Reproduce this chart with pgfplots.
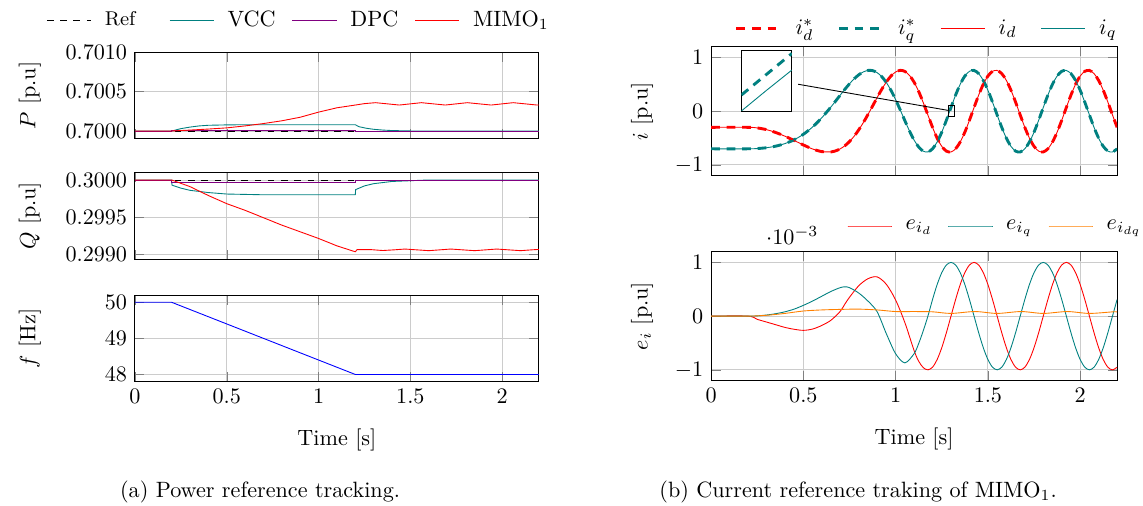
\documentclass[border=0pt]{standalone}
\usepackage{pgfplots}
\pgfplotsset{compat=1.18}
\usepackage{pgfplotstable}

\pgfplotstableread{
t id iq
0 -0.300 -0.700
0.2 -0.300 -0.700
0.25 -0.311 -0.695
0.30 -0.343 -0.680
0.35 -0.396 -0.651
0.40 -0.465 -0.603
0.45 -0.545 -0.532
0.50 -0.628 -0.430
0.55 -0.703 -0.294
0.60 -0.752 -0.122
0.65 -0.757 0.081
0.675 -0.738 0.189
0.70 -0.700 0.300
0.725 -0.643 0.408
0.75 -0.565 0.510
0.775 -0.467 0.602
0.80 -0.348 0.677
0.825 -0.212 0.731
0.85 -0.062 0.759
0.875 0.095 0.756
0.90 0.255 0.717
0.925 0.408 0.643
0.95 0.545 0.532
0.975 0.656 0.388
1.00 0.730 0.215
1.025 0.761 0.024
1.05 0.741 -0.175
1.075 0.667 -0.367
1.10 0.541 -0.537
1.125 0.367 -0.667
1.15 0.157 -0.745
1.175 -0.072 -0.758
1.20 -0.300 -0.700
1.225 -0.502 -0.573
1.25 -0.654 -0.390
1.275 -0.743 -0.169
1.30 -0.759 0.069
1.325 -0.700 0.300
1.35 -0.573 0.502
1.375 -0.390 0.654
1.40 -0.169 0.743
1.425 0.069 0.759
1.45 0.300 0.700
1.475 0.502 0.573
1.50 0.654 0.390
1.525 0.743 0.169
1.55 0.759 -0.069
1.575 0.700 -0.300
1.60 0.573 -0.502
1.625 0.390 -0.654
1.65 0.169 -0.743
1.675 -0.069 -0.759
1.70 -0.300 -0.700
1.725 -0.502 -0.573
1.75 -0.654 -0.390
1.775 -0.743 -0.169
1.80 -0.759 0.069
1.825 -0.700 0.300
1.85 -0.573 0.502
1.875 -0.390 0.654
1.90 -0.169 0.743
1.925 0.069 0.759
1.95 0.300 0.700
1.975 0.502 0.573
2.00 0.654 0.390
2.025 0.743 0.169
2.05 0.759 -0.069
2.075 0.700 -0.300
2.10 0.573 -0.502
2.125 0.390 -0.654
2.15 0.169 -0.743
2.175 -0.069 -0.759
2.20 -0.300 -0.700
}\itable

\pgfplotstableread{
t eid eiq
0 0 0
0.2 0 0
0.25 -0.06 0.005
0.3 -0.11 0.02
0.35 -0.16 0.045
0.4 -0.21 0.08
0.45 -0.245 0.13
0.5 -0.265 0.2
0.55 -0.241 0.28
0.6 -0.174 0.37
0.65 -0.076 0.46
0.7 0.089 0.53
0.725 0.224 0.545
0.75 0.35 0.53
0.8 0.565 0.43
0.85 0.696 0.28
0.9 0.73 0.08
0.95 0.59 -0.33
1.0 0.3 -0.7
1.05 -0.12 -0.87
1.1 -0.64 -0.7
1.125 -0.84 -0.51
1.15 -0.96 -0.27
1.175 -1 0
1.2 -0.951 0.309
1.225 -0.809 0.588
1.25 -0.588 0.809
1.275 -0.309 0.951
1.3 0 1
1.325 0.309 0.951
1.35 0.588 0.809
1.375 0.809 0.588
1.4 0.951 0.309
1.425 1 0
1.45 0.951 -0.309
1.475 0.809 -0.588
1.5 0.588 -0.809
1.525 0.309 -0.951
1.55 0 -1
1.575 -0.309 -0.951
1.6 -0.588 -0.809
1.625 -0.809 -0.588
1.65 -0.951 -0.309
1.675 -1 0
1.7 -0.951 0.309
1.725 -0.809 0.588
1.75 -0.588 0.809
1.775 -0.309 0.951
1.8 0 1
1.825 0.309 0.951
1.85 0.588 0.809
1.875 0.809 0.588
1.9 0.951 0.309
1.925 1 0
1.95 0.951 -0.309
1.975 0.809 -0.588
2.0 0.588 -0.809
2.025 0.309 -0.951
2.05 0 -1
2.075 -0.309 -0.951
2.1 -0.588 -0.809
2.125 -0.809 -0.588
2.15 -0.951 -0.309
2.175 -1 0
2.2 -0.951 0.309
}\etable

\pgfplotsset{
  base/.style={scale only axis, anchor=north west, xmin=0, xmax=2.2,
    xtick={0,0.5,1,1.5,2}, grid=major, grid style={black!20},
    scaled y ticks=false},
  leftax/.style={base, width=182.4pt, height=39.1pt,
    ylabel style={at={(axis description cs:-0.26,0.5)}, anchor=center}},
  rightax/.style={base, width=183.3pt, height=58.2pt,
    ylabel style={at={(axis description cs:-0.17,0.5)}, anchor=center}},
  refdash/.style={line width=1.3pt, dash pattern=on 4pt off 3pt},
}

\begin{document}
\begin{tikzpicture}
\path[use as bounding box] (0,0) rectangle (516pt,-228.4pt);

% ---------- P ----------
\begin{axis}[leftax, at={(60.9pt,-23.6pt)},
  ymin=0.6999, ymax=0.701, ytick={0.7,0.7005,0.701},
  yticklabel style={/pgf/number format/.cd, fixed, fixed zerofill, precision=4},
  xticklabels={}, ylabel={$P$ [p.u]},
  legend columns=4, legend cell align=left,
  legend image code/.code={\draw[mark repeat=2,mark phase=2,#1] plot coordinates {(0pt,0pt) (10pt,0pt) (20pt,0pt)};},
  legend style={draw=none, fill=none, inner xsep=0pt, inner ysep=0pt,
    at={(-0.22,1.373)}, anchor=west,
    /tikz/every odd column/.append style={column sep=4pt},
    /tikz/every even column/.append style={column sep=2pt}}]
\addplot[black, dashed] coordinates {(0,0.7) (2.2,0.7)};
\addlegendentry{\makebox[25pt][l]{\small Ref}}
\addplot[teal] coordinates {(0,0.7) (0.2,0.7) (0.25,0.70003) (0.3,0.70005) (0.35,0.700065) (0.4,0.700073) (0.5,0.700078) (0.6,0.70008) (1.2,0.70008) (1.22,0.700055) (1.26,0.700035) (1.3,0.700022) (1.35,0.700012) (1.4,0.700006) (1.5,0.700001) (1.6,0.7) (2.2,0.7)};
\addlegendentry{\makebox[25pt][l]{VCC}}
\addplot[violet] coordinates {(0,0.7) (0.2,0.7) (0.2,0.70001) (1.2,0.70001) (1.2,0.7) (2.2,0.7)};
\addlegendentry{\makebox[25pt][l]{DPC}}
\addplot[red] coordinates {(0,0.7) (0.2,0.7) (0.3,0.700012) (0.4,0.700025) (0.5,0.70004) (0.6,0.700065) (0.7,0.700095) (0.8,0.70013) (0.9,0.700175) (1.0,0.70024) (1.1,0.700295) (1.2,0.70033) (1.25,0.700348) (1.31,0.70036) (1.375,0.700345) (1.44,0.70033) (1.5,0.700345) (1.56,0.70036) (1.625,0.700345) (1.69,0.70033) (1.75,0.700345) (1.81,0.70036) (1.875,0.700345) (1.94,0.70033) (2.0,0.700345) (2.06,0.70036) (2.125,0.700345) (2.19,0.70033) (2.2,0.70033)};
\addlegendentry{MIMO$_1$}
\end{axis}

% ---------- Q ----------
\begin{axis}[leftax, at={(60.9pt,-77.9pt)},
  ymin=0.29893, ymax=0.3001, ytick={0.299,0.2995,0.3},
  yticklabel style={/pgf/number format/.cd, fixed, fixed zerofill, precision=4},
  xticklabels={}, ylabel={$Q$ [p.u]}]
\addplot[black, dashed] coordinates {(0,0.3) (2.2,0.3)};
\addplot[teal] coordinates {(0,0.3) (0.2,0.3) (0.202,0.29993) (0.25,0.29989) (0.3,0.29986) (0.4,0.29983) (0.5,0.29981) (0.7,0.2998) (1.2,0.2998) (1.202,0.29987) (1.25,0.29992) (1.3,0.29995) (1.4,0.29998) (1.5,0.29999) (1.6,0.3) (2.2,0.3)};
\addplot[violet] coordinates {(0,0.3) (0.2,0.3) (0.2,0.29997) (1.2,0.29997) (1.2,0.3) (2.2,0.3)};
\addplot[red] coordinates {(0,0.3) (0.2,0.3) (0.3,0.29991) (0.4,0.29979) (0.5,0.29968) (0.6,0.29959) (0.7,0.29949) (0.8,0.29939) (0.9,0.2993) (1.0,0.29921) (1.1,0.29911) (1.2,0.29903) (1.21,0.29906) (1.28,0.29906) (1.35,0.299047) (1.41,0.299056) (1.47,0.299067) (1.535,0.299056) (1.6,0.299045) (1.66,0.299056) (1.72,0.299067) (1.785,0.299056) (1.85,0.299045) (1.91,0.299056) (1.97,0.299067) (2.035,0.299056) (2.1,0.299045) (2.16,0.299056) (2.2,0.299062)};
\end{axis}

% ---------- f ----------
\begin{axis}[leftax, at={(60.9pt,-133.2pt)},
  ymin=47.8, ymax=50.2, ytick={48,49,50},
  ylabel={$f$ [Hz]}, xlabel={Time [s]},
  xlabel style={at={(axis description cs:0.5,0)}, anchor=center, yshift=-26.3pt}]
\addplot[blue] coordinates {(0,50) (0.2,50) (1.2,48) (2.2,48)};
\end{axis}

% ---------- i ----------
\begin{axis}[rightax, at={(321pt,-21.1pt)},
  ymin=-1.2, ymax=1.2, ytick={-1,0,1}, xticklabels={},
  ylabel={$i$ [p.u]},
  legend columns=4, legend cell align=left,
  legend image code/.code={\draw[mark repeat=2,mark phase=2,#1] plot coordinates {(0pt,0pt) (10pt,0pt) (20pt,0pt)};},
  legend style={draw=none, fill=none, inner xsep=0pt, inner ysep=0pt,
    at={(0.058,1.14)}, anchor=west,
    /tikz/every odd column/.append style={column sep=4pt},
    /tikz/every even column/.append style={column sep=2pt}}]
\addplot[red, refdash, smooth, forget plot] table[x=t,y=id]{\itable};
\addplot[teal, refdash, smooth, forget plot] table[x=t,y=iq]{\itable};
\addplot[red, smooth, forget plot] table[x=t,y=id]{\itable};
\addplot[teal, smooth, forget plot] table[x=t,y=iq]{\itable};
\addlegendimage{red, refdash}
\addlegendentry{\makebox[15pt][l]{$i_d^*$}}
\addlegendimage{teal, refdash}
\addlegendentry{\makebox[15pt][l]{$i_q^*$}}
\addlegendimage{color=red, solid, line width=0.4pt}
\addlegendentry{\makebox[15pt][l]{$i_d$}}
\addlegendimage{color=teal, solid, line width=0.4pt}
\addlegendentry{$i_q$}
\draw (axis cs:1.286,-0.1) rectangle (axis cs:1.319,0.1);
\draw (axis cs:0.4715,0.502) -- (axis cs:1.2916,0.011);
\end{axis}

% ---------- inset ----------
\begin{axis}[at={(334.7pt,-22.9pt)}, anchor=north west, scale only axis,
  width=22.8pt, height=27.2pt, xmin=1.286, xmax=1.319, ymin=-0.1, ymax=0.1,
  xtick=\empty, ytick=\empty, axis background/.style={fill=white}]
\addplot[teal, refdash] coordinates {(1.286,-0.047) (1.3025,0.022) (1.319,0.091)};
\addplot[teal] coordinates {(1.286,-0.1) (1.3025,-0.031) (1.319,0.036)};
\end{axis}

% ---------- e ----------
\begin{axis}[rightax, at={(321pt,-113.6pt)},
  ymin=-1.2, ymax=1.2, ytick={-1,0,1},
  ylabel={$e_i$ [p.u]}, xlabel={Time [s]},
  xlabel style={at={(axis description cs:0.5,0)}, anchor=center, yshift=-26.3pt},
  legend columns=3, legend cell align=left,
  legend image code/.code={\draw[mark repeat=2,mark phase=2,#1] plot coordinates {(0pt,0pt) (10pt,0pt) (20pt,0pt)};},
  legend style={draw=none, fill=none, inner xsep=0pt, inner ysep=0pt,
    at={(0.334,1.199)}, anchor=west,
    /tikz/every odd column/.append style={column sep=4pt},
    /tikz/every even column/.append style={column sep=2pt}},
  extra description/.code={\node at (0.2,1) [yshift=7.5pt] {$\cdot 10^{-3}$};}]
\addplot[red, smooth] table[x=t,y=eid]{\etable};
\addlegendentry{\makebox[15pt][l]{$e_{i_d}$}}
\addplot[teal, smooth] table[x=t,y=eiq]{\etable};
\addlegendentry{\makebox[15pt][l]{$e_{i_q}$}}
\addplot[orange, smooth] coordinates {(0,0) (0.2,0) (0.3,0.015) (0.4,0.05) (0.5,0.095) (0.6,0.115) (0.7,0.125) (0.8,0.13) (0.9,0.115) (1.0,0.085) (1.1,0.085) (1.2,0.08) (1.3,0.05) (1.43,0.085) (1.55,0.05) (1.68,0.085) (1.8,0.05) (1.93,0.085) (2.05,0.05) (2.18,0.08) (2.2,0.075)};
\addlegendentry{$e_{i_{dq}}$}
\end{axis}

\node at (117.4pt,-222.1pt) {(a) Power reference tracking.};
\node at (387.4pt,-222.1pt) {(b) Current reference traking of MIMO$_1$.};
\end{tikzpicture}
\end{document}
